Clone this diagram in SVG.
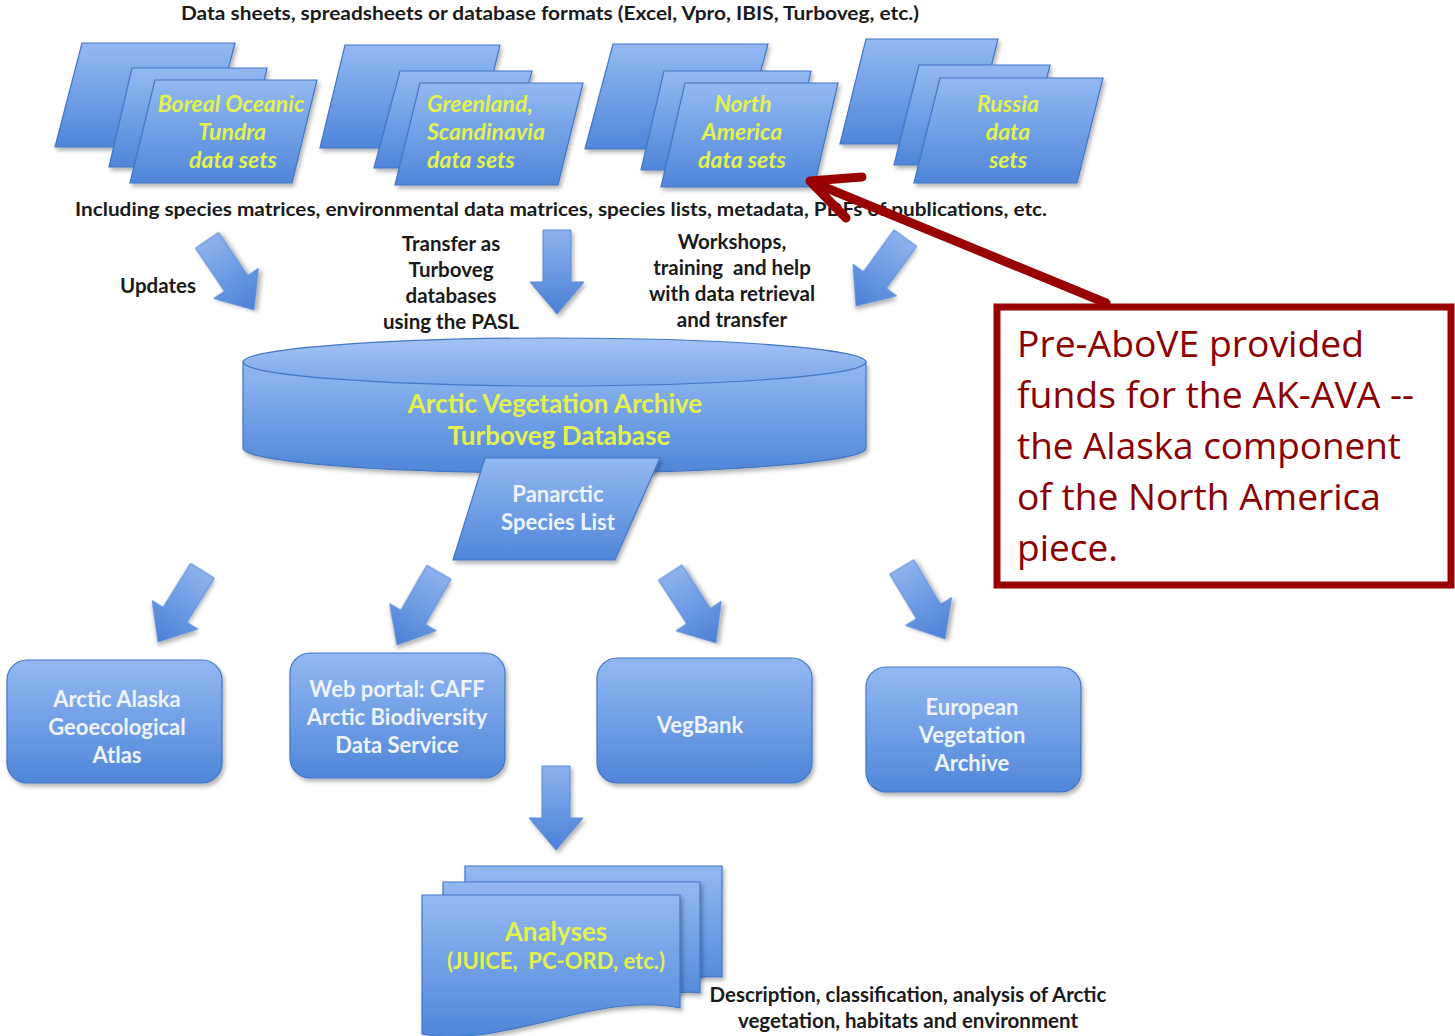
<svg xmlns="http://www.w3.org/2000/svg" width="1455" height="1036" viewBox="0 0 1455 1036">
<defs>
  <linearGradient id="gBlue" x1="0" y1="0" x2="0" y2="1">
    <stop offset="0" stop-color="#93b9f2"/>
    <stop offset="1" stop-color="#4f86d9"/>
  </linearGradient>
  <linearGradient id="gArrow" x1="0" y1="0" x2="0" y2="1">
    <stop offset="0" stop-color="#8db3ee"/>
    <stop offset="1" stop-color="#4a80d6"/>
  </linearGradient>
  <linearGradient id="gTop" x1="0" y1="0" x2="0" y2="1">
    <stop offset="0" stop-color="#a3c3f4"/>
    <stop offset="1" stop-color="#7ba6ea"/>
  </linearGradient>
  <filter id="sh" x="-10%" y="-10%" width="125%" height="130%">
    <feDropShadow dx="2" dy="3" stdDeviation="2" flood-color="#000" flood-opacity="0.3"/>
  </filter>
  <path id="blk" d="M-14,-84 H14 V-32 H27 L0,0 L-27,-32 H-14 Z"/>
</defs>
<style>
  .shape { fill: url(#gBlue); stroke: #4276c6; stroke-width: 1.2; filter: url(#sh); }
  .arr { fill: url(#gArrow); stroke: #5a8bd6; stroke-width: 1; filter: url(#sh); }
  .lbl { font-family: Lato, "Open Sans", sans-serif; font-weight: bold; font-size: 20.5px; fill: #1a1a1a; text-anchor: middle; }
  .top { font-size: 18px; }
  .yel { font-family: Lato, "Open Sans", sans-serif; font-weight: bold; font-style: italic; font-size: 23px; fill: #e4f24e; text-anchor: middle; }
  .yelb { font-family: Lato, "Open Sans", sans-serif; font-weight: bold; font-size: 26px; fill: #e4f24e; text-anchor: middle; }
  .wht { font-family: Lato, "Open Sans", sans-serif; font-weight: bold; font-size: 22px; fill: #eef3fd; text-anchor: middle; }
  .note { font-family: "Open Sans", "Noto Sans", sans-serif; font-size: 37px; fill: #8b0000; }
</style>

<rect width="1455" height="1036" fill="#ffffff"/>

<text class="lbl top" x="550" y="20" textLength="738" lengthAdjust="spacingAndGlyphs">Data sheets, spreadsheets or database formats (Excel, Vpro, IBIS, Turboveg, etc.)</text>

<g id="boreal">
  <path class="shape" d="M82,43 H235 L208,147 H55 Z"/>
  <path class="shape" d="M132,68 H267 L244,167 H109 Z"/>
  <path class="shape" d="M155,80 H317 L292,183 H130 Z"/>
  <text class="yel" x="231" y="112">Boreal Oceanic</text>
  <text class="yel" x="232" y="140">Tundra</text>
  <text class="yel" x="233" y="168">data sets</text>
</g>
<g id="greenland">
  <path class="shape" d="M345,45 H500 L475,148 H320 Z"/>
  <path class="shape" d="M400,71 H532 L506,168 H374 Z"/>
  <path class="shape" d="M420,83 H583 L558,185 H395 Z"/>
  <text class="yel" x="427" y="112" style="text-anchor:start">Greenland,</text>
  <text class="yel" x="427" y="140" style="text-anchor:start">Scandinavia</text>
  <text class="yel" x="427" y="168" style="text-anchor:start">data sets</text>
</g>
<g id="northamerica">
  <path class="shape" d="M613,44 H768 L740,149 H585 Z"/>
  <path class="shape" d="M664,71 H811 L788,170 H641 Z"/>
  <path class="shape" d="M685,83 H838 L814,187 H661 Z"/>
  <text class="yel" x="743" y="112">North</text>
  <text class="yel" x="742" y="140">America</text>
  <text class="yel" x="742" y="168">data sets</text>
</g>
<g id="russia">
  <path class="shape" d="M866,39 H998 L972,144 H840 Z"/>
  <path class="shape" d="M919,65 H1050 L1025,165 H894 Z"/>
  <path class="shape" d="M940,78 H1103 L1077,183 H914 Z"/>
  <text class="yel" x="1008" y="112">Russia</text>
  <text class="yel" x="1008" y="140">data</text>
  <text class="yel" x="1008" y="168">sets</text>
</g>

<text class="lbl top" x="561" y="216" textLength="972" lengthAdjust="spacingAndGlyphs">Including species matrices, environmental data matrices, species lists, metadata, PDFs of publications, etc.</text>

<text class="lbl" x="158" y="293">Updates</text>
<text class="lbl" x="451" y="251">Transfer as</text>
<text class="lbl" x="451" y="277">Turboveg</text>
<text class="lbl" x="451" y="303">databases</text>
<text class="lbl" x="451" y="329">using the PASL</text>
<text class="lbl" x="732" y="249">Workshops,</text>
<text class="lbl" x="732" y="275">training&#160; and help</text>
<text class="lbl" x="732" y="301">with data retrieval</text>
<text class="lbl" x="732" y="327">and transfer</text>

<g id="connectors">
  <use href="#blk" class="arr" transform="translate(254,310) rotate(-34)"/>
  <use href="#blk" class="arr" transform="translate(557,314)"/>
  <use href="#blk" class="arr" transform="translate(856,306) rotate(36)"/>
  <use href="#blk" class="arr" transform="translate(158,642) rotate(32)"/>
  <use href="#blk" class="arr" transform="translate(397,645) rotate(30)"/>
  <use href="#blk" class="arr" transform="translate(716,643) rotate(-33)"/>
  <use href="#blk" class="arr" transform="translate(945,639) rotate(-31)"/>
  <use href="#blk" class="arr" transform="translate(556,850)"/>
</g>

<g id="ava">
  <path class="shape" d="M243,362 V448 A311.5,25 0 0 0 866,448 V362 Z"/>
  <ellipse cx="554.5" cy="362" rx="311.5" ry="24" fill="url(#gTop)" stroke="#4276c6" stroke-width="1.2"/>
  <text class="yelb" x="555" y="413">Arctic Vegetation Archive</text>
  <text class="yelb" x="559" y="445">Turboveg Database</text>
</g>

<g id="pasl">
  <path class="shape" d="M485,458 H660 L615,560 H453 Z"/>
  <text class="wht" x="558" y="502">Panarctic</text>
  <text class="wht" x="558" y="530">Species List</text>
</g>

<g id="aaga">
  <rect class="shape" x="7" y="660" width="215" height="123" rx="20"/>
  <text class="wht" x="117" y="707">Arctic Alaska</text>
  <text class="wht" x="117" y="735">Geoecological</text>
  <text class="wht" x="117" y="763">Atlas</text>
</g>
<g id="caff">
  <rect class="shape" x="290" y="653" width="215" height="125" rx="20"/>
  <text class="wht" x="397" y="697">Web portal: CAFF</text>
  <text class="wht" x="397" y="725">Arctic Biodiversity</text>
  <text class="wht" x="397" y="753">Data Service</text>
</g>
<g id="vegbank">
  <rect class="shape" x="597" y="658" width="215" height="125" rx="20"/>
  <text class="wht" x="700" y="733">VegBank</text>
</g>
<g id="eva">
  <rect class="shape" x="866" y="667" width="215" height="125" rx="20"/>
  <text class="wht" x="972" y="715">European</text>
  <text class="wht" x="972" y="743">Vegetation</text>
  <text class="wht" x="972" y="771">Archive</text>
</g>

<g id="analyses">
  <path class="shape" d="M465,866 H722 V977 C700,975 685,980 665,985 L465,990 Z"/>
  <path class="shape" d="M443,882 H700 V993 C680,990 665,996 645,1001 L443,1006 Z"/>
  <path class="shape" d="M422,895 H680 V1008 C640,1000 600,1008 560,1018 C510,1030 465,1042 422,1034 Z"/>
  <text class="yelb" x="556" y="941">Analyses</text>
  <text class="yelb" x="556" y="969" style="font-size:22px">(JUICE,&#160; PC-ORD, etc.)</text>
</g>

<text class="lbl" x="908" y="1002">Description, classification, analysis of Arctic</text>
<text class="lbl" x="908" y="1028">vegetation, habitats and environment</text>

<g id="callout">
  <rect x="997" y="307" width="454" height="278" fill="#ffffff" stroke="#990000" stroke-width="7"/>
  <text class="note" x="1017" y="357" textLength="347" lengthAdjust="spacingAndGlyphs">Pre-AboVE provided</text>
  <text class="note" x="1017" y="408" textLength="397" lengthAdjust="spacingAndGlyphs">funds for the AK-AVA --</text>
  <text class="note" x="1017" y="459" textLength="384" lengthAdjust="spacingAndGlyphs">the Alaska component</text>
  <text class="note" x="1017" y="510" textLength="364" lengthAdjust="spacingAndGlyphs">of the North America</text>
  <text class="note" x="1017" y="561" textLength="101" lengthAdjust="spacingAndGlyphs">piece.</text>
</g>
<g id="callout-arrow" fill="none" stroke="#990000" stroke-width="9" stroke-linecap="round" stroke-linejoin="round">
  <path d="M1106,303 L812,182"/>
  <path d="M862,177 L810,181 L846,218"/>
</g>
</svg>
